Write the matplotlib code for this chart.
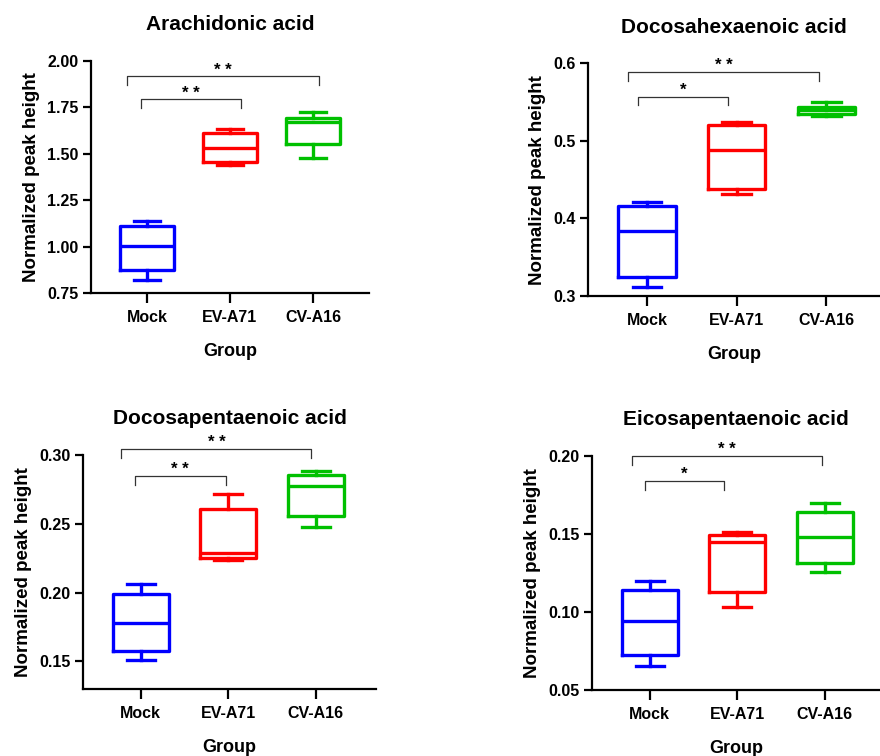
import matplotlib.pyplot as plt

plt.rcParams['font.family'] = ['Liberation Sans', 'DejaVu Sans']
plt.rcParams['font.weight'] = 'bold'

groups = ['Mock', 'EV-A71', 'CV-A16']
colors = ['#0000ff', '#ff0000', '#00c000']

# box statistics per group: whisker low, q1, median, q3, whisker high
ara_lo = [0.822, 1.440, 1.476]
ara_q1 = [0.876, 1.458, 1.552]
ara_med = [1.005, 1.534, 1.670]
ara_q3 = [1.112, 1.611, 1.695]
ara_hi = [1.139, 1.635, 1.724]

dha_lo = [0.311, 0.4315, 0.532]
dha_q1 = [0.325, 0.438, 0.535]
dha_med = [0.384, 0.488, 0.540]
dha_q3 = [0.416, 0.521, 0.544]
dha_hi = [0.421, 0.524, 0.550]

dpa_lo = [0.151, 0.224, 0.248]
dpa_q1 = [0.1577, 0.2255, 0.2557]
dpa_med = [0.1778, 0.229, 0.2775]
dpa_q3 = [0.1993, 0.261, 0.2852]
dpa_hi = [0.206, 0.272, 0.2884]

epa_lo = [0.0654, 0.103, 0.1256]
epa_q1 = [0.0722, 0.1128, 0.1312]
epa_med = [0.0942, 0.1447, 0.1481]
epa_q3 = [0.1141, 0.1494, 0.1639]
epa_hi = [0.1199, 0.1511, 0.1697]

# significance brackets: (x start, x end, height, label)
ara_sig = [(-0.07, 1.13, 1.794, '* *'), (-0.24, 2.07, 1.917, '* *')]
dha_sig = [(-0.10, 0.90, 0.557, '*'), (-0.21, 1.92, 0.589, '* *')]
dpa_sig = [(-0.07, 0.97, 0.285, '* *'), (-0.22, 1.95, 0.3044, '* *')]
epa_sig = [(-0.06, 0.85, 0.1842, '*'), (-0.20, 1.97, 0.2002, '* *')]

panels = [
    ('Arachidonic acid', [ara_lo, ara_q1, ara_med, ara_q3, ara_hi], ara_sig,
     [0.1034, 0.6124, 0.3159, 0.3069], (0.75, 2.00), [0.75, 1.00, 1.25, 1.50, 1.75, 2.00], '%.2f', (-0.675, 2.675)),
    ('Docosahexaenoic acid', [dha_lo, dha_q1, dha_med, dha_q3, dha_hi], dha_sig,
     [0.668, 0.6085, 0.332, 0.3078], (0.3, 0.6), [0.3, 0.4, 0.5, 0.6], '%.1f', (-0.66, 2.60)),
    ('Docosapentaenoic acid', [dpa_lo, dpa_q1, dpa_med, dpa_q3, dpa_hi], dpa_sig,
     [0.0943, 0.0886, 0.333, 0.3095], (0.13, 0.30), [0.15, 0.20, 0.25, 0.30], '%.2f', (-0.66, 2.69)),
    ('Eicosapentaenoic acid', [epa_lo, epa_q1, epa_med, epa_q3, epa_hi], epa_sig,
     [0.6727, 0.0873, 0.3273, 0.3095], (0.05, 0.20), [0.05, 0.10, 0.15, 0.20], '%.2f', (-0.66, 2.63)),
]

fig = plt.figure(figsize=(8.8, 7.56), dpi=100)

for title, st, sig, rect, ylim, yticks, fmt, xlim in panels:
    ax = fig.add_axes(rect)
    lo, q1, med, q3, hi = st
    stats = [dict(whislo=lo[i], q1=q1[i], med=med[i], q3=q3[i], whishi=hi[i], label=groups[i])
             for i in range(3)]
    bp = ax.bxp(stats, positions=[0, 1, 2], widths=0.64, capwidths=0.32,
                showfliers=False, manage_ticks=False)
    for i, c in enumerate(colors):
        bp['boxes'][i].set(color=c, linewidth=2.4)
        bp['medians'][i].set(color=c, linewidth=2.4)
        for k in (2 * i, 2 * i + 1):
            bp['whiskers'][k].set(color=c, linewidth=2.4)
            bp['caps'][k].set(color=c, linewidth=2.4)

    for x0, x1, y, lab in sig:
        leg = (ylim[1] - ylim[0]) * 0.038
        ax.plot([x0, x0, x1, x1], [y - leg, y, y, y - leg], color='#333333', lw=0.9, clip_on=False)
        ax.annotate(lab, ((x0 + x1) / 2, y), xytext=(0, -1), textcoords='offset points',
                    ha='center', va='bottom', fontsize=12, fontweight='bold', annotation_clip=False)

    ax.set_xlim(xlim)
    ax.set_ylim(ylim)
    ax.set_xticks([0, 1, 2])
    ax.set_xticklabels(groups)
    ax.set_yticks(yticks)
    ax.set_yticklabels([fmt % v for v in yticks])
    ax.spines['top'].set_visible(False)
    ax.spines['right'].set_visible(False)
    ax.spines['left'].set_linewidth(1.6)
    ax.spines['bottom'].set_linewidth(1.6)
    ax.tick_params(axis='x', length=7, width=1.6, pad=5, labelsize=11.5)
    ax.tick_params(axis='y', length=6, width=1.6, pad=3, labelsize=11.5)
    ax.set_xlabel('Group', fontsize=13, fontweight='bold', labelpad=13)
    ax.set_ylabel('Normalized peak height', fontsize=13.5, fontweight='bold', labelpad=5)
    ax.set_title(title, fontsize=15, fontweight='bold', pad=22)

fig.savefig('out.png', dpi=100)
